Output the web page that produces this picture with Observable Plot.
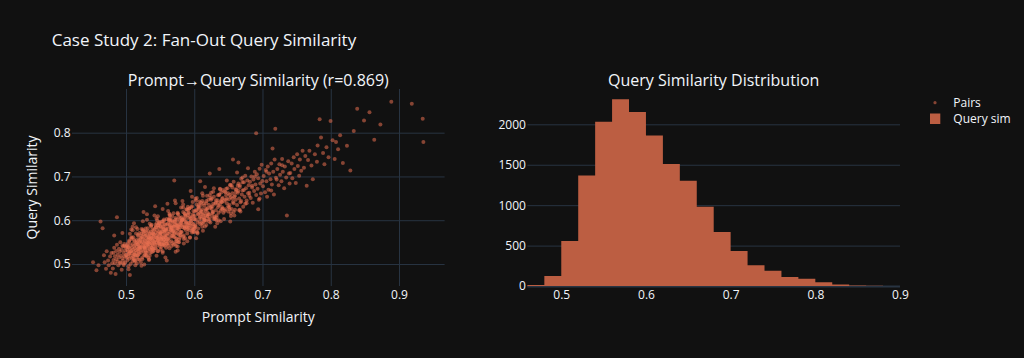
<!DOCTYPE html>
<html>
<head>
<meta charset="utf-8">
<script src="https://cdn.jsdelivr.net/npm/d3@7"></script>
<script src="https://cdn.jsdelivr.net/npm/@observablehq/plot@0.6"></script>
<style>
  html, body { margin: 0; padding: 0; background: #111111; }
  #chart { position: relative; width: 1024px; height: 358px; background: #111111; overflow: hidden; font-family: "Open Sans", sans-serif; }
  #chart > svg, #chart > .panel { position: absolute; top: 0; }
  .panel svg { display: block; }
</style>
</head>
<body>
<div id="chart"></div>
<script>
// ---------- Data ----------
const chartTitle = "Case Study 2: Fan-Out Query Similarity";
const scatterTitle = "Prompt\u2192Query Similarity (r=0.869)";
const histTitle = "Query Similarity Distribution";
const xAxisTitle = "Prompt Similarity";
const yAxisTitle = "Query Similarity";
const legendLabels = ["Pairs", "Query sim"];

const promptSim = [
  .451,.456,.459,
  .462,.465,.467,.468,.470,.471,.473,.474,.476,.477,.478,.479,
  .480,.481,.481,.482,.483,.483,.484,.485,.485,.486,
  .487,.487,.488,.489,.489,.490,.491,.491,.492,.493,
  .493,.494,.495,.495,.496,.496,.497,.497,.498,.498,
  .499,.499,.482,.486,.494,
  .500,.500,.501,.501,.502,.502,.502,.503,.503,.504,
  .504,.504,.505,.505,.506,.506,.506,.507,.507,.508,
  .508,.508,.509,.509,.510,.510,.510,.511,.511,.511,
  .512,.512,.512,.513,.513,.514,.514,.514,.515,.515,
  .515,.516,.516,.516,.517,.517,.517,.518,.518,.518,
  .519,.519,.519,.520,.520,.503,.507,.511,.515,.519,
  .505,.509,.513,.517,.501,
  .520,.521,.521,.522,.522,.523,.523,.523,.524,.524,
  .525,.525,.525,.526,.526,.526,.527,.527,.527,.528,
  .528,.528,.529,.529,.529,.530,.530,.530,.531,.531,
  .531,.532,.532,.532,.533,.533,.533,.534,.534,.534,
  .535,.535,.535,.536,.536,.536,.537,.537,.537,.538,
  .538,.538,.539,.539,.539,.540,.540,.521,.524,.527,
  .530,.533,.536,.539,.522,.525,.528,.531,.534,.537,
  .523,.526,.529,.532,.535,.538,.520,.540,.530,.526,
  .540,.541,.541,.542,.542,.543,.543,.543,.544,.544,
  .545,.545,.545,.546,.546,.546,.547,.547,.547,.548,
  .548,.548,.549,.549,.549,.550,.550,.550,.551,.551,
  .551,.552,.552,.552,.553,.553,.553,.554,.554,.554,
  .555,.555,.555,.556,.556,.556,.557,.557,.557,.558,
  .558,.558,.559,.559,.559,.560,.560,.541,.544,.547,
  .550,.553,.556,.559,.542,.545,.548,.551,.554,.557,
  .543,.546,.549,.552,.555,.558,.540,.560,.550,.546,
  .560,.561,.561,.562,.562,.563,.563,.564,.564,.565,
  .565,.566,.566,.567,.567,.568,.568,.569,.569,.570,
  .570,.571,.571,.572,.572,.573,.573,.574,.574,.575,
  .575,.576,.576,.577,.577,.578,.578,.579,.579,.580,
  .561,.563,.565,.567,.569,.571,.573,.575,.577,.579,
  .562,.564,.566,.568,.570,.572,.574,.576,.578,.560,
  .568,.572,.566,.574,.563,.577,.570,.565,.575,.571,
  .580,.581,.581,.582,.583,.583,.584,.585,.585,.586,
  .587,.587,.588,.589,.589,.590,.591,.591,.592,.593,
  .593,.594,.595,.595,.596,.597,.597,.598,.599,.599,
  .580,.582,.584,.586,.588,.590,.592,.594,.596,.598,
  .581,.583,.585,.587,.589,.591,.593,.595,.597,.599,
  .582,.586,.590,.594,.598,.584,.588,.592,.596,.600,
  .600,.601,.602,.602,.603,.604,.605,.605,.606,.607,
  .608,.608,.609,.610,.611,.611,.612,.613,.614,.614,
  .615,.616,.617,.617,.618,.619,.620,.601,.603,.605,
  .607,.609,.611,.613,.615,.617,.619,.604,.606,.610,
  .612,.616,.618,.602,.608,.614,.620,.600,.610,.615,
  .620,.621,.622,.623,.624,.625,.626,.627,.628,.629,
  .630,.631,.632,.633,.634,.635,.636,.637,.638,.639,
  .621,.623,.625,.627,.629,.631,.633,.635,.637,.640,
  .622,.626,.630,.634,.638,.624,.628,.632,.636,.640,
  .640,.641,.642,.643,.644,.645,.646,.647,.648,.649,
  .650,.651,.652,.653,.654,.655,.656,.657,.658,.659,
  .641,.643,.645,.647,.649,.651,.653,.655,.657,.660,
  .656,.652,
  .660,.661,.662,.663,.664,.665,.666,.667,.668,.669,
  .670,.671,.672,.673,.674,.675,.676,.677,.678,.679,
  .662,.666,.670,.674,.678,.664,
  .680,.681,.682,.683,.684,.685,.686,.687,.688,.689,.690,
  .691,.692,.693,.694,.695,.696,.697,.698,.699,.690,.693,
  .700,.701,.703,.704,.705,.707,.708,.709,.711,.712,.713,.715,.716,.717,.719,.706,.714,.718,
  .720,.721,.723,.724,.725,.727,.728,.729,.731,.732,.734,.735,.737,.738,.739,
  .740,.742,.743,.745,.746,.748,.750,.751,.753,.754,.756,.758,
  .760,.762,.764,.766,.768,.771,.773,.776,.779,
  .780,.783,.785,.788,.790,.793,.796,.799,
  .802,.805,.807,.810,.813,.817,
  .823,.828,.833,.838,
  .848,.856,.863,.872,
  .888,.918,.934,.935,
  // denser core of the cloud
  .491,.497,.503,.508,.512,.517,.522,.526,.531,.535,
  .539,.543,.548,.552,.556,.561,.565,.569,.574,.578,
  .583,.587,.591,.596,.601,.605,.609,.614,.618,.623,
  .627,.632,.636,.641,.646,.651,.655,.660,.665,.672,
  .494,.500,.505,.510,.515,.520,.524,.529,.533,.538,
  .542,.546,.551,.555,.559,.563,.568,.572,.576,.581,
  .585,.589,.594,.598,.603,.607,.612,.616,.621,.625,
  .630,.634,.639,.644,.649,.653,.658,.663,.668,.676,
  .502,.507,.511,.516,.521,.525,.530,.534,.537,.541,
  .545,.549,.553,.557,.562,.566,.570,.575,.579,.584,
  .588,.592,.597,.600,.604,.610,.613,.617,.622,.626,
  .631,.635,.640,.645,.650,.654,.659,.664,.670,.680,
  .496,.504,.509,.513,.518,.523,.527,.532,.536,.540,
  .544,.547,.550,.554,.558,.562,.567,.571,.575,.580,
  .514,.519,.528,.537,.546,.555,.564,.573,.582,.590,
  .599,.606,.611,.619,.628,.637,.647,.657,.666,.684,
  .506,.511,.517,.522,.527,.532,.537,.543,.548,.553,
  .558,.563,.569,.574,.579,.585,.590,.596,.602,.608,
  .514,.524,.534,.544,.553,.563,.573,.583,.593,.603,
  .612,.624,.638,.652,.667,.688,.695,.705,.712,.728
];

const querySim = [
  .505,.487,.498,
  .598,.583,.521,.505,.490,.530,.509,.498,.518,.481,.526,.503,
  .491,.527,.510,.538,.503,.519,.478,.531,.512,.545,
  .507,.522,.498,.536,.516,.529,.505,.551,.520,.488,
  .533,.514,.541,.509,.526,.499,.547,.518,.532,.504,
  .539,.521,.566,.608,.572,
  .522,.541,.509,.533,.548,.517,.530,.496,.539,.525,
  .552,.513,.536,.528,.501,.544,.520,.531,.558,.515,
  .538,.526,.547,.507,.534,.519,.562,.529,.542,.511,
  .537,.553,.523,.545,.498,.532,.549,.527,.540,.516,
  .556,.535,.521,.546,.531,.568,.512,.543,.536,.524,
  .550,.539,.528,.557,.534,.489,.580,.594,.503,.572,
  .476,.586,.508,.565,.544,
  .538,.561,.527,.549,.570,.533,.552,.516,.545,.559,
  .541,.574,.530,.556,.521,.548,.565,.537,.553,.528,
  .582,.546,.560,.519,.551,.539,.568,.544,.557,.532,
  .549,.576,.541,.555,.510,.563,.547,.535,.571,.552,
  .543,.558,.527,.566,.550,.589,.538,.561,.548,.534,
  .572,.555,.542,.564,.530,.553,.578,.505,.599,.522,
  .615,.512,.587,.536,.497,.620,.531,.546,.593,.558,
  .562,.540,.575,.516,.560,.545,.553,.569,.602,.500,
  .569,.548,.581,.556,.537,.573,.562,.590,.551,.566,
  .544,.578,.560,.531,.571,.555,.584,.548,.563,.597,
  .552,.575,.541,.567,.588,.559,.534,.572,.556,.580,
  .563,.546,.593,.570,.553,.527,.576,.561,.586,.549,
  .574,.557,.600,.565,.543,.579,.568,.552,.591,.560,
  .538,.583,.566,.548,.604,.571,.557,.612,.520,.589,
  .547,.627,.576,.509,.633,.562,.595,.540,.581,.516,
  .585,.554,.570,.598,.545,.577,.561,.639,.573,.530,
  .581,.559,.594,.570,.548,.587,.575,.603,.562,.579,
  .596,.553,.584,.571,.610,.566,.589,.545,.577,.598,
  .564,.591,.573,.552,.606,.583,.560,.595,.578,.541,
  .588,.569,.614,.580,.557,.600,.585,.566,.593,.574,
  .622,.537,.579,.601,.563,.646,.590,.532,.608,.568,
  .555,.612,.582,.597,.571,.529,.603,.586,.561,.592,
  .576,.640,.565,.589,.605,.551,.692,.584,.618,.547,
  .596,.574,.608,.585,.620,.591,.566,.603,.587,.612,
  .579,.598,.625,.590,.571,.606,.584,.617,.595,.562,
  .609,.588,.631,.600,.577,.614,.593,.622,.604,.581,
  .589,.602,.558,.615,.594,.581,.628,.599,.573,.611,
  .601,.637,.583,.596,.553,.619,.590,.607,.643,.586,
  .645,.560,.613,.668,.592,.548,.626,.578,.655,.603,
  .611,.589,.624,.603,.637,.596,.615,.582,.628,.607,
  .592,.619,.641,.605,.586,.626,.613,.598,.634,.617,
  .601,.623,.590,.645,.610,.629,.604,.650,.575,.632,
  .599,.622,.663,.608,.587,.640,.618,.571,.636,.594,
  .657,.612,.627,.560,.690,.602,.648,.583,.621,.677,
  .615,.636,.604,.629,.648,.611,.633,.620,.655,.606,
  .639,.624,.612,.647,.631,.618,.660,.637,.623,.643,
  .598,.652,.627,.666,.609,.641,.594,.635,.672,.626,
  .708,.617,.586,.658,.645,.632,.674,.601,.718,.650,
  .631,.652,.618,.645,.667,.626,.658,.640,.674,.621,
  .649,.636,.681,.654,.627,.663,.643,.689,.612,.657,
  .670,.604,.648,.692,.633,.659,.617,.676,.640,.665,
  .740,.598,
  .648,.671,.636,.664,.685,.651,.677,.642,.696,.660,
  .669,.632,.688,.655,.703,.674,.646,.692,.663,.681,
  .710,.625,.699,.639,.720,.733,
  .664,.689,.652,.701,.676,.641,.694,.668,.712,.683,.659,
  .706,.673,.697,.648,.719,.685,.662,.728,.691,.800,.626,
  .679,.702,.665,.716,.690,.724,.671,.708,.695,.731,.683,.712,.660,.740,.698,.655,.765,.810,
  .694,.718,.681,.729,.705,.690,.741,.712,.674,.724,.699,.612,.736,.708,.685,
  .709,.731,.697,.745,.718,.686,.752,.725,.703,.740,.714,.760,
  .721,.748,.680,.739,.760,.726,.695,.752,.735,
  .772,.832,.790,.755,.729,.768,.745,.828,
  .784,.741,.780,.763,.795,.732,
  .771,.715,.805,.856,
  .829,.848,.785,.820,
  .872,.867,.833,.780,
  // denser core of the cloud
  .503,.543,.524,.561,.509,.547,.565,.538,.583,.534,
  .571,.537,.594,.563,.592,.543,.588,.617,.571,.591,
  .564,.611,.594,.633,.587,.616,.636,.605,.657,.596,
  .639,.608,.659,.628,.673,.626,.651,.672,.624,.670,
  .543,.516,.570,.514,.551,.541,.577,.521,.561,.580,
  .545,.590,.559,.603,.547,.590,.579,.603,.551,.599,
  .617,.585,.605,.575,.624,.644,.594,.626,.614,.651,
  .604,.641,.665,.623,.663,.611,.655,.680,.645,.640,
  .540,.562,.522,.581,.540,.569,.526,.569,.591,.551,
  .601,.547,.585,.562,.603,.542,.586,.616,.573,.605,
  .587,.628,.580,.621,.573,.614,.640,.600,.658,.620,
  .647,.601,.643,.665,.630,.681,.625,.668,.688,.657,
  .502,.555,.578,.521,.556,.512,.576,.550,.575,.532,
  .594,.558,.587,.545,.580,.601,.549,.597,.583,.630,
  .571,.511,.567,.538,.610,.557,.600,.558,.603,.632,
  .574,.630,.645,.611,.604,.673,.650,.620,.681,.680,
  .530,.556,.521,.581,.538,.562,.528,.585,.549,.598,
  .553,.613,.587,.553,.606,.584,.625,.583,.646,.609,
  .585,.580,.520,.605,.530,.616,.542,.630,.561,.652,
  .577,.664,.599,.682,.621,.701,.651,.712,.669,.727
];

// Histogram of query similarity (bins of width 0.02)
const binStart = [0.46,0.48,0.50,0.52,0.54,0.56,0.58,0.60,0.62,0.64,0.66,0.68,0.70,0.72,0.74,0.76,0.78,0.80,0.82,0.84,0.86,0.88];
const binEnd   = [0.48,0.50,0.52,0.54,0.56,0.58,0.60,0.62,0.64,0.66,0.68,0.70,0.72,0.74,0.76,0.78,0.80,0.82,0.84,0.86,0.88,0.90];
const binCount = [13,124,558,1368,2033,2309,2152,1863,1508,1301,979,669,434,256,190,112,91,46,18,6,4,1];

const scatterXTicks = [0.5,0.6,0.7,0.8,0.9];
const scatterYTicks = [0.5,0.6,0.7,0.8];
const histXTicks = [0.5,0.6,0.7,0.8,0.9];
const histYTicks = [0,500,1000,1500,2000];

// ---------- Styling ----------
const TEXT = "#f2f5fa";
const GRID = "#283442";
const DOT = "#E76F51";
const BAR = "#BC5E42";
const FONT = "'Open Sans', Verdana, Arial, sans-serif";

const chart = document.getElementById("chart");

const pairs = promptSim.map((p, i) => ({p, q: querySim[i]}));
// histogram outline as one stepped shape (no seams between adjacent bars)
const steps = binStart.map((s, i) => ({x: s, y: binCount[i]}))
  .concat([{x: binEnd[binEnd.length - 1], y: binCount[binCount.length - 1]}]);

const baseStyle = {background: "transparent", color: TEXT, fontFamily: FONT, fontSize: "12px", overflow: "visible"};

// Scatter panel: plot area x 72..444.6, y 89..286
const scatter = Plot.plot({
  width: 480, height: 358,
  marginLeft: 72, marginRight: 35.4, marginTop: 89, marginBottom: 72,
  style: baseStyle,
  x: {domain: [0.4209, 0.9668], ticks: scatterXTicks, tickSize: 0, tickPadding: 4, tickFormat: d => d.toFixed(1), label: null},
  y: {domain: [0.4497, 0.8998], ticks: scatterYTicks, tickSize: 0, tickPadding: 2, tickFormat: d => d.toFixed(1), label: null},
  marks: [
    Plot.ruleX(scatterXTicks, {stroke: GRID, strokeOpacity: 1, strokeWidth: 1}),
    Plot.ruleY(scatterYTicks, {stroke: GRID, strokeOpacity: 1, strokeWidth: 1}),
    Plot.dot(pairs, {x: "p", y: "q", r: 2, fill: DOT, fillOpacity: 0.55, stroke: "none"})
  ]
});
const sp = document.createElement("div");
sp.className = "panel";
sp.style.left = "0px";
sp.appendChild(scatter);
chart.appendChild(sp);

// Histogram panel: plot area x 527.4..900, y 89..286
const hist = Plot.plot({
  width: 470, height: 358,
  marginLeft: 67.4, marginRight: 30, marginTop: 89, marginBottom: 72,
  style: baseStyle,
  x: {domain: [0.46, 0.90], ticks: histXTicks, tickSize: 0, tickPadding: 4, tickFormat: d => d.toFixed(1), label: null},
  y: {domain: [0, 2437], ticks: histYTicks, tickSize: 0, tickPadding: 2, tickFormat: d => String(d), label: null},
  marks: [
    Plot.ruleY(histYTicks, {stroke: GRID, strokeOpacity: 1, strokeWidth: 1}),
    Plot.ruleY([0], {stroke: GRID, strokeOpacity: 1, strokeWidth: 2}),
    Plot.areaY(steps, {x: "x", y: "y", curve: "step-after", fill: BAR})
  ]
});
const hp = document.createElement("div");
hp.className = "panel";
hp.style.left = "460px";
hp.appendChild(hist);
chart.appendChild(hp);

// ---------- Text overlay (titles, axis titles, legend) ----------
const ov = d3.select(chart).append("svg")
  .attr("width", 1024).attr("height", 358)
  .style("position", "absolute").style("left", "0px").style("top", "0px")
  .style("pointer-events", "none")
  .attr("font-family", FONT).attr("fill", TEXT);

ov.append("text").attr("x", 51.7).attr("y", 45.7).attr("font-size", 17).text(chartTitle);
ov.append("text").attr("x", 258.3).attr("y", 85.7).attr("font-size", 16).attr("text-anchor", "middle").text(scatterTitle);
ov.append("text").attr("x", 713.7).attr("y", 85.7).attr("font-size", 16).attr("text-anchor", "middle").text(histTitle);
ov.append("text").attr("x", 258.3).attr("y", 322.3).attr("font-size", 14).attr("text-anchor", "middle").text(xAxisTitle);
ov.append("text").attr("transform", "translate(36.5,187.5) rotate(-90)").attr("font-size", 14).attr("text-anchor", "middle").text(yAxisTitle);

// Legend
ov.append("circle").attr("cx", 935).attr("cy", 102.7).attr("r", 1.6).attr("fill", DOT).attr("fill-opacity", 0.55);
ov.append("text").attr("x", 953.3).attr("y", 107.2).attr("font-size", 12).text(legendLabels[0]);
ov.append("rect").attr("x", 930).attr("y", 113.5).attr("width", 10.3).attr("height", 10.5).attr("fill", BAR);
ov.append("text").attr("x", 953.3).attr("y", 122.8).attr("font-size", 12).text(legendLabels[1]);
</script>
</body>
</html>
